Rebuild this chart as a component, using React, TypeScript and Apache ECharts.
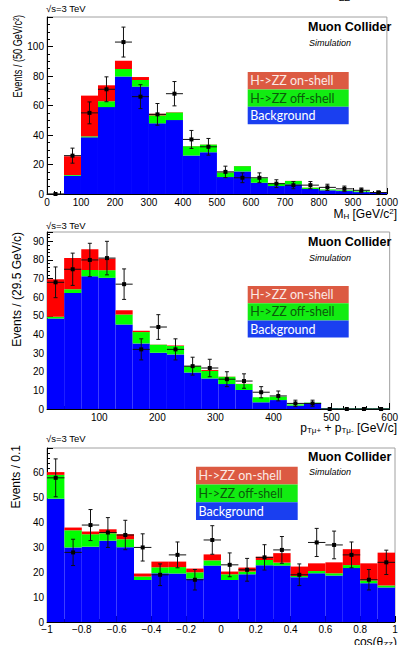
import { useEffect, useRef } from "react";
import * as echarts from "echarts";

// ---------- data ----------
// Panel 1: M_H, 20 bins of 50 GeV starting at 0
const mhBinLow = 0;
const mhBinWidth = 50;
const mhBackground = [0, 12.4, 38.4, 58.9, 79.6, 72.8, 47.9, 50.1, 26.1, 28.3, 11.5, 15.3, 7.6, 5.4, 6.5, 3.4, 2.5, 2.0, 1.3, 0.7];
const mhOffShell = [0, 0.4, 0.7, 4.0, 5.1, 4.5, 5.4, 5.2, 6.3, 5.2, 3.1, 3.6, 3.0, 2.0, 2.3, 0.9, 0.6, 0.5, 0.5, 0.2];
const mhOnShell = [0, 12.8, 27.6, 10.8, 5.6, 2.0, 1.1, 0.2, 0.1, 0.1, 0.1, 0.1, 0.1, 0.1, 0.1, 0.1, 0, 0, 0, 0];
const mhData = [0, 26, 55, 71, 103, 66, 54, 68, 37, 32, 15, 11, 11, 7, 6, 6, 4.5, 3.5, 2.5, 1];

// Panel 2: pT sum, 20 bins of 29.5 GeV starting at 10
const ptBinLow = 10;
const ptBinWidth = 29.5;
const ptBackground = [48.6, 62.3, 71.3, 70.4, 45.4, 35.2, 30.2, 29.3, 19.6, 16.4, 13.4, 10.2, 3.6, 4.8, 1.8, 3.2, 0.3, 0.2, 0.2, 0.2];
const ptOffShell = [0.9, 2.0, 3.3, 4.1, 5.3, 6.1, 4.3, 4.5, 3.4, 4.0, 3.9, 3.2, 2.7, 1.8, 0.7, 0.2, 0.2, 0.2, 0.2, 0.2];
const ptOnShell = [20.1, 16.8, 11.1, 6.2, 2.3, 0.7, 0.1, 0.3, 0.1, 0.5, 0.1, 0.1, 0, 0, 0, 0, 0, 0, 0, 0];
const ptData = [68, 75, 80, 81, 67, 32, 44, 32, 23, 22, 16, 15, 9, 7, 3, 3, 0, 0, 0, 0];

// Panel 3: cos(theta_ZZ), 20 bins of 0.1 starting at -1
const cosBinLow = -1;
const cosBinWidth = 0.1;
const cosBackground = [49.6, 30.0, 30.3, 32.7, 30.1, 16.9, 19.6, 19.5, 17.5, 22.7, 16.9, 19.2, 22.8, 22.7, 18.0, 19.6, 18.7, 21.7, 15.6, 13.9];
const cosOffShell = [9.6, 6.9, 5.0, 3.0, 3.2, 1.4, 2.4, 2.6, 2.5, 2.1, 2.3, 1.1, 2.1, 1.2, 0.5, 0.9, 0.9, 1.2, 1.1, 0.8];
const cosOnShell = [1.1, 1.1, 1.1, 1.6, 2.0, 1.2, 2.3, 2.2, 1.5, 2.4, 1.1, 1.6, 1.4, 3.8, 3.8, 3.1, 4.4, 6.4, 6.9, 13.2];
const cosData = [58, 28, 39, 36, 35, 30, 19, 27, 17, 33, 23, 21, 26, 29, 19, 32, 31, 27, 17, 24];

const legendLabels = ["H->ZZ on-shell", "H->ZZ off-shell", "Background"];

// ---------- styles ----------
const HIST_COLORS = ["#0000ff", "#00ff00", "#ff0000"]; // background, off-shell, on-shell
const LEG_FILL = ["#dc5a42", "#12ec12", "#1a3ff0"];
const LEG_TEXT = ["#fbe9e4", "#0b5a0b", "#ffffff"];
const FONT = "'Liberation Sans', Arial, sans-serif";

function stackItems(low: number, w: number, layers: number[][]) {
  const out: number[][][] = layers.map(() => []);
  const n = layers[0].length;
  for (let i = 0; i < n; i++) {
    let base = 0;
    layers.forEach((arr, li) => {
      const top = base + arr[i];
      out[li].push([low + i * w, low + (i + 1) * w, base, top]);
      base = top;
    });
  }
  return out;
}

function dataItems(low: number, w: number, data: number[]) {
  return data.map((v, i) => {
    const e = Math.sqrt(v);
    return [low + (i + 0.5) * w, v, low + i * w, low + (i + 1) * w, v - e, v + e];
  });
}

function histSeries(gridIdx: number, items: number[][][]) {
  return items.map((arr, li) => ({
    type: "custom",
    xAxisIndex: gridIdx,
    yAxisIndex: gridIdx,
    clip: true,
    silent: true,
    encode: { x: [0, 1], y: [2, 3] },
    data: arr,
    renderItem: (params: any, api: any) => {
      const x0 = api.value(0), x1 = api.value(1), y0 = api.value(2), y1 = api.value(3);
      if (y1 - y0 <= 0) return null;
      const p0 = api.coord([x0, y1]);
      const p1 = api.coord([x1, y0]);
      return {
        type: "rect",
        shape: { x: p0[0], y: p0[1], width: p1[0] - p0[0], height: p1[1] - p0[1] },
        style: { fill: HIST_COLORS[li] },
      };
    },
  }));
}

function errSeries(gridIdx: number, items: number[][]) {
  return {
    type: "custom",
    xAxisIndex: gridIdx,
    yAxisIndex: gridIdx,
    clip: false,
    silent: true,
    encode: { x: 0, y: 1 },
    data: items,
    z: 5,
    renderItem: (params: any, api: any) => {
      const xc = api.value(0), y = api.value(1), xl = api.value(2), xh = api.value(3), yl = api.value(4), yh = api.value(5);
      const c = api.coord([xc, y]);
      const l = api.coord([xl, y]);
      const r = api.coord([xh, y]);
      const lo = api.coord([xc, yl]);
      const hi = api.coord([xc, yh]);
      const st = { stroke: "#111", lineWidth: 1 };
      const children: any[] = [
        { type: "line", shape: { x1: l[0], y1: c[1], x2: r[0], y2: c[1] }, style: st },
      ];
      if (yh > yl) {
        children.push({ type: "line", shape: { x1: c[0], y1: lo[1], x2: c[0], y2: hi[1] }, style: st });
        children.push({ type: "line", shape: { x1: c[0] - 2, y1: lo[1], x2: c[0] + 2, y2: lo[1] }, style: st });
        children.push({ type: "line", shape: { x1: c[0] - 2, y1: hi[1], x2: c[0] + 2, y2: hi[1] }, style: st });
      }
      children.push({ type: "rect", shape: { x: c[0] - 2, y: c[1] - 2, width: 4, height: 4 }, style: { fill: "#000" } });
      return { type: "group", children };
    },
  };
}

function axisCommon(gridIndex: number, minorSplit: number) {
  return {
    type: "value",
    gridIndex,
    axisLine: { show: true, onZero: false, lineStyle: { color: "#000", width: 1 } },
    axisTick: { show: true, inside: true, length: 6, lineStyle: { color: "#000" } },
    minorTick: { show: true, splitNumber: minorSplit, length: 3, lineStyle: { color: "#000" } },
    splitLine: { show: false },
    minorSplitLine: { show: false },
  };
}

const labelStyle = { fontFamily: FONT, fontSize: 10, color: "#000" };
const plainNum = (v: number) => String(+v.toFixed(1)).replace("-", "−");

function titleY(text: string, x: number, yTop: number, size: number, scale: number) {
  return {
    type: "text",
    x,
    y: yTop,
    rotation: Math.PI / 2,
    scaleX: scale,
    style: { text, fontFamily: FONT, fontSize: size, fill: "#000", align: "right", verticalAlign: "middle" },
  };
}

const richTitle = {
  n: { fontFamily: FONT, fontSize: 12, lineHeight: 13, verticalAlign: "middle", fill: "#000" },
  s: { fontFamily: FONT, fontSize: 8, lineHeight: 8, verticalAlign: "bottom", fill: "#000" },
  p: { fontFamily: FONT, fontSize: 8, lineHeight: 8, verticalAlign: "top", fill: "#000" },
};

function titleX(text: string, xRight: number, yMid: number) {
  return {
    type: "text",
    x: xRight,
    y: yMid,
    style: { text, rich: richTitle, align: "right", verticalAlign: "middle" },
  };
}

function legendBlock(x: number, y: number, w: number, rowH: number) {
  const els: any[] = [];
  legendLabels.forEach((lab, i) => {
    els.push({ type: "rect", shape: { x, y: y + i * rowH, width: w, height: rowH }, style: { fill: LEG_FILL[i] } });
    els.push({
      type: "text",
      x: x + 2.5,
      y: y + i * rowH + rowH / 2,
      style: { text: lab, fontFamily: "Lato, 'Open Sans', sans-serif", fontSize: 12.5, fill: LEG_TEXT[i], verticalAlign: "middle" },
    });
  });
  return els;
}

function labelsBlock(yMuon: number, ySim: number, ySqrt: number) {
  return [
    { type: "text", x: 308, y: yMuon, style: { text: "Muon Collider", fontFamily: FONT, fontSize: 12.5, fontWeight: "bold", fill: "#000", verticalAlign: "middle" } },
    { type: "text", x: 309, y: ySim, style: { text: "Simulation", fontFamily: FONT, fontSize: 9, fontStyle: "italic", fill: "#000", verticalAlign: "middle" } },
    { type: "text", x: 46, y: ySqrt, style: { text: "√s=3 TeV", fontFamily: FONT, fontSize: 9.5, fill: "#000", verticalAlign: "middle" } },
  ];
}

export default function App() {
  const ref = useRef<HTMLDivElement>(null);
  useEffect(() => {
    if (!ref.current) return;
    const chart = echarts.init(ref.current, undefined, { renderer: "svg" });

    const mhStack = stackItems(mhBinLow, mhBinWidth, [mhBackground, mhOffShell, mhOnShell]);
    const ptStack = stackItems(ptBinLow, ptBinWidth, [ptBackground, ptOffShell, ptOnShell]);
    const cosStack = stackItems(cosBinLow, cosBinWidth, [cosBackground, cosOffShell, cosOnShell]);

    const gridCommon = { show: true, borderColor: "#a0a0a0", borderWidth: 1, backgroundColor: "transparent", containLabel: false };

    chart.setOption({
      animation: false,
      grid: [
        { ...gridCommon, left: 47, top: 17, width: 349, height: 177 },
        { ...gridCommon, left: 47, top: 232, width: 349, height: 177 },
        { ...gridCommon, left: 47, top: 448, width: 348, height: 174 },
      ],
      xAxis: [
        {
          ...axisCommon(0, 5),
          min: 0, max: 1000, interval: 100,
          axisLabel: { ...labelStyle, margin: 3, showMaxLabel: true, formatter: plainNum },
        },
        {
          ...axisCommon(1, 5),
          min: 10, max: 600, splitNumber: 6,
          axisLabel: { ...labelStyle, margin: 3, showMinLabel: false, showMaxLabel: true, formatter: plainNum },
        },
        {
          ...axisCommon(2, 4),
          min: -1, max: 1, interval: 0.2,
          axisLabel: { ...labelStyle, margin: 2, formatter: plainNum },
        },
      ],
      yAxis: [
        {
          ...axisCommon(0, 4),
          min: 0, max: 120, interval: 20,
          axisLabel: { ...labelStyle, margin: 3, showMaxLabel: false },
        },
        {
          ...axisCommon(1, 5),
          min: 0, max: 95, interval: 10,
          axisLabel: { ...labelStyle, margin: 3, showMaxLabel: false },
        },
        {
          ...axisCommon(2, 5),
          min: 0, max: 70, interval: 10,
          axisLabel: { ...labelStyle, margin: 3, showMaxLabel: false },
        },
      ],
      series: [
        ...histSeries(0, mhStack),
        errSeries(0, dataItems(mhBinLow, mhBinWidth, mhData)),
        ...histSeries(1, ptStack),
        errSeries(1, dataItems(ptBinLow, ptBinWidth, ptData)),
        ...histSeries(2, cosStack),
        errSeries(2, dataItems(cosBinLow, cosBinWidth, cosData)),
      ],
      graphic: [
        { type: "text", x: 339, y: -2, style: { text: "ZZ", fontFamily: FONT, fontSize: 9, fill: "#000", verticalAlign: "middle" } },
        titleY("Events / (50 GeV/c²)", 17, 15, 13, 0.7),
        titleY("Events / (29.5 GeV/c)", 17, 232, 12, 1),
        titleY("Events / 0.1", 16, 445, 12, 1),
        titleX("{n|M}{s|H}{n| [GeV/c}{p|2}{n|]}", 397, 214),
        titleX("{n|p}{s|Tμ+}{n| + p}{s|Tμ-}{n| [GeV/c]}", 397, 428),
        titleX("{n|cos(θ}{s|ZZ}{n|)}", 397, 642),
        ...labelsBlock(26.7, 42.7, 8),
        ...labelsBlock(242.3, 257.7, 225),
        ...labelsBlock(456.7, 472.3, 438.3),
        ...legendBlock(247.7, 72, 101, 17.4),
        ...legendBlock(247.7, 286, 101, 17.2),
        ...legendBlock(196, 466.7, 101.7, 17.8),
      ],
    });
    return () => chart.dispose();
  }, []);
  return <div ref={ref} style={{ position: "absolute", left: 0, top: 0, width: 401, height: 645 }} />;
}
